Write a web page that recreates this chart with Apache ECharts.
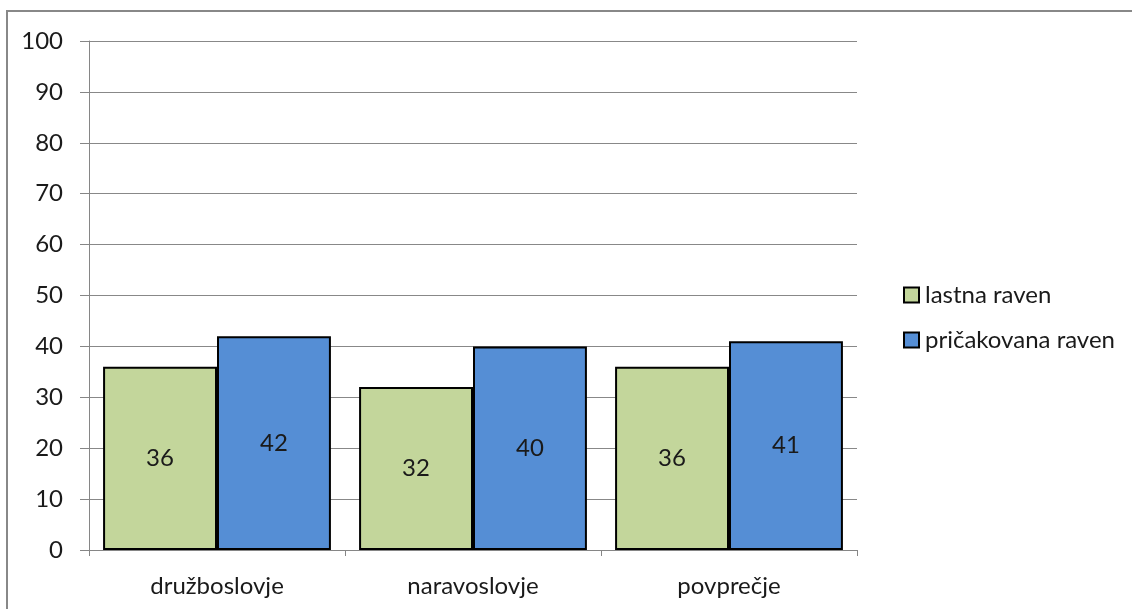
<!DOCTYPE html>
<html>
<head>
<meta charset="utf-8">
<script src="https://cdn.jsdelivr.net/npm/echarts@6/dist/echarts.min.js"></script>
<style>
  html, body { margin: 0; padding: 0; background: #fff; }
  #chart { width: 1132px; height: 609px; }
</style>
</head>
<body>
<div id="chart"></div>
<script>
// Categories and series values
const categories = ['družboslovje', 'naravoslovje', 'povprečje'];
const lastnaRaven = [36, 32, 36];
const pricakovanaRaven = [42, 40, 41];
const seriesNames = ['lastna raven', 'pričakovana raven'];
const yTicks = { min: 0, max: 100, step: 10 };

const FONT = 'Lato, "Open Sans", sans-serif';
const FS = 24;
const chart = echarts.init(document.getElementById('chart'), null, { renderer: 'canvas' });

const barStyle = (color) => ({ color: color, borderColor: '#000', borderWidth: 2 });
const barLabel = { show: true, position: 'inside', color: '#1a1a1a', fontSize: FS, fontFamily: FONT };

chart.setOption({
  backgroundColor: '#fff',
  animation: false,
  graphic: [{
    type: 'rect',
    shape: { x: 7, y: 11, width: 1140, height: 620 },
    style: { fill: 'none', stroke: '#888', lineWidth: 2 },
    silent: true
  }],
  grid: { left: 89, top: 41, right: 275, bottom: 59 },
  legend: {
    orient: 'vertical',
    left: 898,
    top: 278,
    itemWidth: 15,
    itemHeight: 15,
    itemGap: 21,
    icon: 'rect',
    textStyle: { fontSize: FS, fontFamily: FONT, color: '#1a1a1a', padding: [0, 0, 0, 1] },
    data: seriesNames
  },
  xAxis: {
    type: 'category',
    data: categories,
    axisLine: { show: true, lineStyle: { color: '#868686', width: 1 } },
    axisTick: { show: true, length: 6, lineStyle: { color: '#868686' } },
    axisLabel: { fontSize: FS, fontFamily: FONT, color: '#1a1a1a', margin: 24 },
    splitLine: { show: false }
  },
  yAxis: {
    type: 'value',
    min: yTicks.min,
    max: yTicks.max,
    interval: yTicks.step,
    axisLine: { show: true, lineStyle: { color: '#868686', width: 1 } },
    axisTick: { show: true, length: 9, lineStyle: { color: '#868686' } },
    axisLabel: { fontSize: FS, fontFamily: FONT, color: '#1a1a1a', margin: 26 },
    splitLine: { show: true, lineStyle: { color: '#888', width: 1 } }
  },
  series: [
    {
      name: seriesNames[0],
      type: 'bar',
      data: lastnaRaven,
      barGap: '0%',
      barCategoryGap: '11%',
      itemStyle: barStyle('#C3D69B'),
      label: barLabel
    },
    {
      name: seriesNames[1],
      type: 'bar',
      data: pricakovanaRaven,
      barGap: '0%',
      barCategoryGap: '11%',
      itemStyle: barStyle('#558ED5'),
      label: barLabel
    }
  ]
});
</script>
</body>
</html>
